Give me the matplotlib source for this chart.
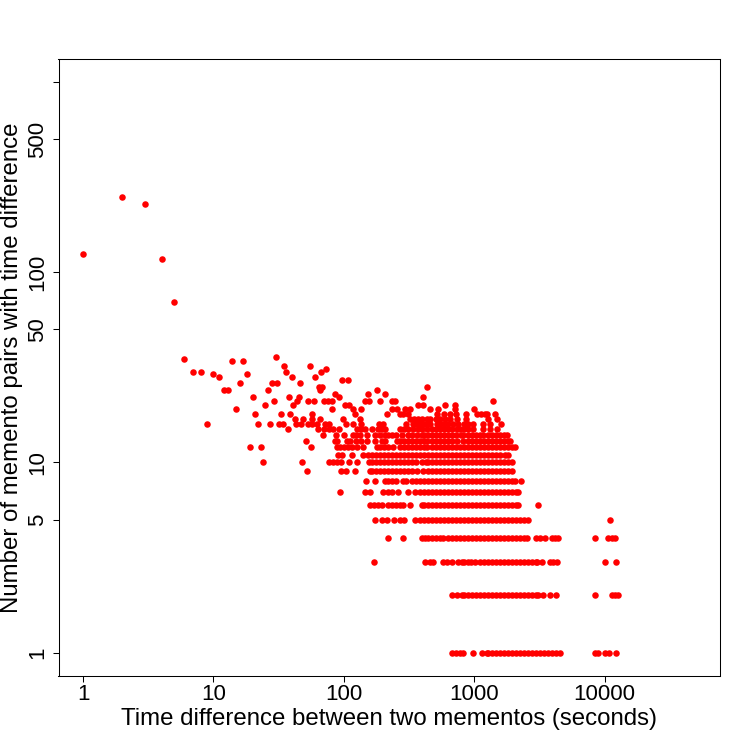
import matplotlib
matplotlib.use("Agg")
import matplotlib.pyplot as plt
from matplotlib.ticker import NullLocator

plt.rcParams['font.family'] = ['Liberation Sans', 'DejaVu Sans']

# time differences (seconds) for each count level of memento pairs
t_count1 = [672, 725, 778, 825, 973, 1141, 1247, 1275, 1368, 1469, 1576, 1691, 1815, 1948, 2090, 2243, 2408, 2584, 2773, 2975, 3193, 3427, 3678, 3946, 4235, 4545, 8440, 8900, 10070, 10810, 12230]
t_count2 = [672, 734, 802, 835, 896, 961, 1032, 1107, 1188, 1275, 1368, 1469, 1576, 1691, 1815, 1948, 2090, 2243, 2408, 2584, 2773, 2975, 3103, 3390, 3815, 4240, 8440, 11330, 12020, 12730]
t_count3 = [171, 420, 455, 486, 580, 620, 672, 755, 800, 835, 896, 940, 1014, 1107, 1188, 1275, 1368, 1469, 1576, 1691, 1815, 1948, 2090, 2243, 2408, 2584, 2773, 2975, 3020, 3296, 3815, 4030, 4280, 10070, 12230]
t_count4 = [218, 286, 396, 420, 445, 472, 509, 547, 580, 633, 675, 725, 778, 835, 896, 961, 1032, 1107, 1188, 1275, 1368, 1469, 1576, 1691, 1815, 1948, 2090, 2243, 2408, 2541, 2980, 3198, 3493, 3951, 4166, 4392, 8440, 10620, 11400, 12020]
t_count5 = [173, 195, 213, 243, 270, 290, 352, 384, 412, 442, 475, 509, 547, 587, 629, 675, 725, 778, 835, 896, 961, 1032, 1107, 1188, 1275, 1368, 1469, 1576, 1691, 1815, 1948, 2090, 2243, 2408, 2587, 11000]
t_count6 = [159, 170, 182, 195, 219, 234, 251, 270, 286, 322, 396, 412, 442, 475, 509, 547, 587, 629, 675, 725, 778, 835, 896, 961, 1032, 1107, 1188, 1275, 1368, 1469, 1576, 1691, 1815, 1948, 2090, 2179, 3070]
t_count7 = [94, 146, 159, 201, 219, 234, 262, 312, 352, 384, 412, 442, 475, 509, 547, 587, 629, 675, 725, 778, 835, 896, 961, 1032, 1107, 1188, 1275, 1368, 1469, 1576, 1691, 1815, 1948, 2090, 2179]
t_count8 = [148, 173, 207, 219, 234, 251, 286, 300, 333, 358, 384, 412, 442, 475, 509, 547, 587, 629, 675, 725, 778, 835, 896, 961, 1032, 1107, 1188, 1275, 1368, 1469, 1576, 1691, 1815, 1948, 2056, 2285]
t_count9 = [52, 95, 104, 122, 159, 165, 177, 190, 203, 218, 234, 251, 270, 290, 311, 333, 362, 407, 442, 475, 509, 547, 587, 629, 675, 725, 778, 835, 896, 961, 1032, 1107, 1188, 1275, 1368, 1469, 1576, 1691, 1815, 1939]
t_count10 = [24, 48, 77, 82, 88, 95, 110, 127, 155, 165, 177, 190, 203, 218, 234, 251, 270, 290, 311, 333, 358, 396, 427, 445, 475, 509, 547, 587, 629, 675, 725, 778, 835, 896, 961, 1032, 1107, 1188, 1275, 1368, 1469, 1576, 1691, 1815, 1939]
t_count11 = [91, 96, 115, 141, 153, 165, 177, 190, 203, 218, 234, 251, 270, 290, 311, 333, 358, 384, 412, 442, 475, 509, 547, 587, 629, 675, 725, 778, 835, 896, 961, 1032, 1107, 1188, 1275, 1368, 1469, 1576, 1722, 1815]
t_count12 = [19, 23, 56, 88, 94, 100, 108, 116, 126, 141, 181, 190, 203, 219, 240, 270, 290, 311, 333, 358, 384, 412, 432, 472, 509, 547, 587, 629, 675, 725, 778, 835, 896, 961, 1032, 1107, 1188, 1275, 1368, 1469, 1576, 1691, 1815, 1948, 2056]
t_count13 = [51, 85, 89, 105, 112, 124, 135, 150, 173, 195, 207, 255, 270, 290, 311, 333, 358, 384, 412, 432, 472, 509, 547, 587, 629, 672, 734, 825, 896, 961, 1032, 1107, 1188, 1275, 1368, 1469, 1576, 1691, 1815, 1881]
t_count14 = [69, 87, 101, 118, 124, 133, 150, 173, 190, 207, 219, 234, 251, 280, 312, 333, 362, 396, 412, 442, 475, 509, 547, 587, 633, 672, 725, 790, 825, 896, 961, 1032, 1107, 1175, 1275, 1368, 1469, 1576, 1691, 1775]
t_count15 = [37, 63, 70, 77, 83, 92, 126, 135, 146, 164, 184, 197, 207, 270, 290, 311, 341, 373, 400, 432, 472, 509, 547, 587, 629, 675, 734, 778, 835, 896, 984, 1175, 1322, 1488]
t_count16 = [9, 22, 27, 32, 34, 43, 47, 53, 57, 62, 72, 77, 104, 118, 136, 187, 201, 300, 341, 358, 384, 412, 432, 458, 516, 547, 587, 629, 692, 755, 835, 896, 984, 1175, 1322, 1596]
t_count17 = [42, 49, 57, 66, 98, 132, 322, 345, 370, 400, 432, 458, 505, 547, 597, 652, 734, 865, 1283, 1488]
t_count18 = [21, 33, 39, 57, 122, 216, 270, 285, 312, 516, 587, 652, 725, 865, 1045, 1120, 1200, 1247, 1443]
t_count19 = [15, 81, 118, 135, 233, 255, 295, 322, 458, 531, 713, 996]
t_count20 = [25, 41, 102, 110, 369, 407, 597, 713]
t_count21 = [29, 44, 53, 59, 70, 76, 81, 146, 156, 190, 234, 247, 1401]

# sparse points above count 21
sparse_time = [1, 2, 3, 4, 5, 6, 7, 8, 10, 11, 12, 13, 14, 16, 17, 18, 20, 26, 28, 30, 31,
               35, 36, 38, 40, 45, 46, 55, 60, 64, 66, 67, 68, 73, 85, 92, 97, 108, 153,
               181, 207, 407, 437]
sparse_count = [124, 249, 228, 117, 70, 35, 30, 30, 29, 28, 24, 24, 34, 26, 34, 29, 22, 24, 26, 36, 26,
                32, 30, 22, 28, 22, 26, 32, 28, 25, 24, 30, 25, 31, 23, 22, 27, 27, 23,
                24, 23, 22, 25]

rows = [t_count1, t_count2, t_count3, t_count4, t_count5, t_count6, t_count7,
        t_count8, t_count9, t_count10, t_count11, t_count12, t_count13, t_count14,
        t_count15, t_count16, t_count17, t_count18, t_count19, t_count20, t_count21]

xs = list(sparse_time)
ys = list(sparse_count)
for count, times in enumerate(rows, start=1):
    xs += times
    ys += [count] * len(times)

fig = plt.figure(figsize=(7.5, 7.5), dpi=100)
ax = fig.add_axes([0.078, 0.0993, 0.8824, 0.822])

ax.plot(xs, ys, 'o', color='red', ms=4.7, mew=0)

ax.set_xscale('log')
ax.set_yscale('log')
ax.set_xlim(0.6486, 77090)
ax.set_ylim(0.7586, 1318)

ax.set_xticks([1, 10, 100, 1000, 10000])
ax.set_xticklabels(['1', '10', '100', '1000', '10000'])
ax.set_yticks([1, 5, 10, 50, 100, 500, 1000])
ax.set_yticklabels(['1', '5', '10', '50', '100', '500', ''])
ax.xaxis.set_minor_locator(NullLocator())
ax.yaxis.set_minor_locator(NullLocator())
ax.tick_params(axis='both', labelsize=16, length=4.3, width=0.75)
ax.tick_params(axis='x', pad=1.5)
ax.tick_params(axis='y', pad=3)
for lab in ax.get_yticklabels():
    lab.set_rotation(90)
    lab.set_verticalalignment('center')

for s in ax.spines.values():
    s.set_linewidth(0.75)

ax.set_xlabel('Time difference between two mementos (seconds)', fontsize=17.3)
ax.set_ylabel('Number of memento pairs with time difference', fontsize=17.3)
ax.xaxis.set_label_coords(0.5, -0.0527)
ax.yaxis.set_label_coords(-0.0535, 0.5)

fig.savefig('out.png', dpi=100)
